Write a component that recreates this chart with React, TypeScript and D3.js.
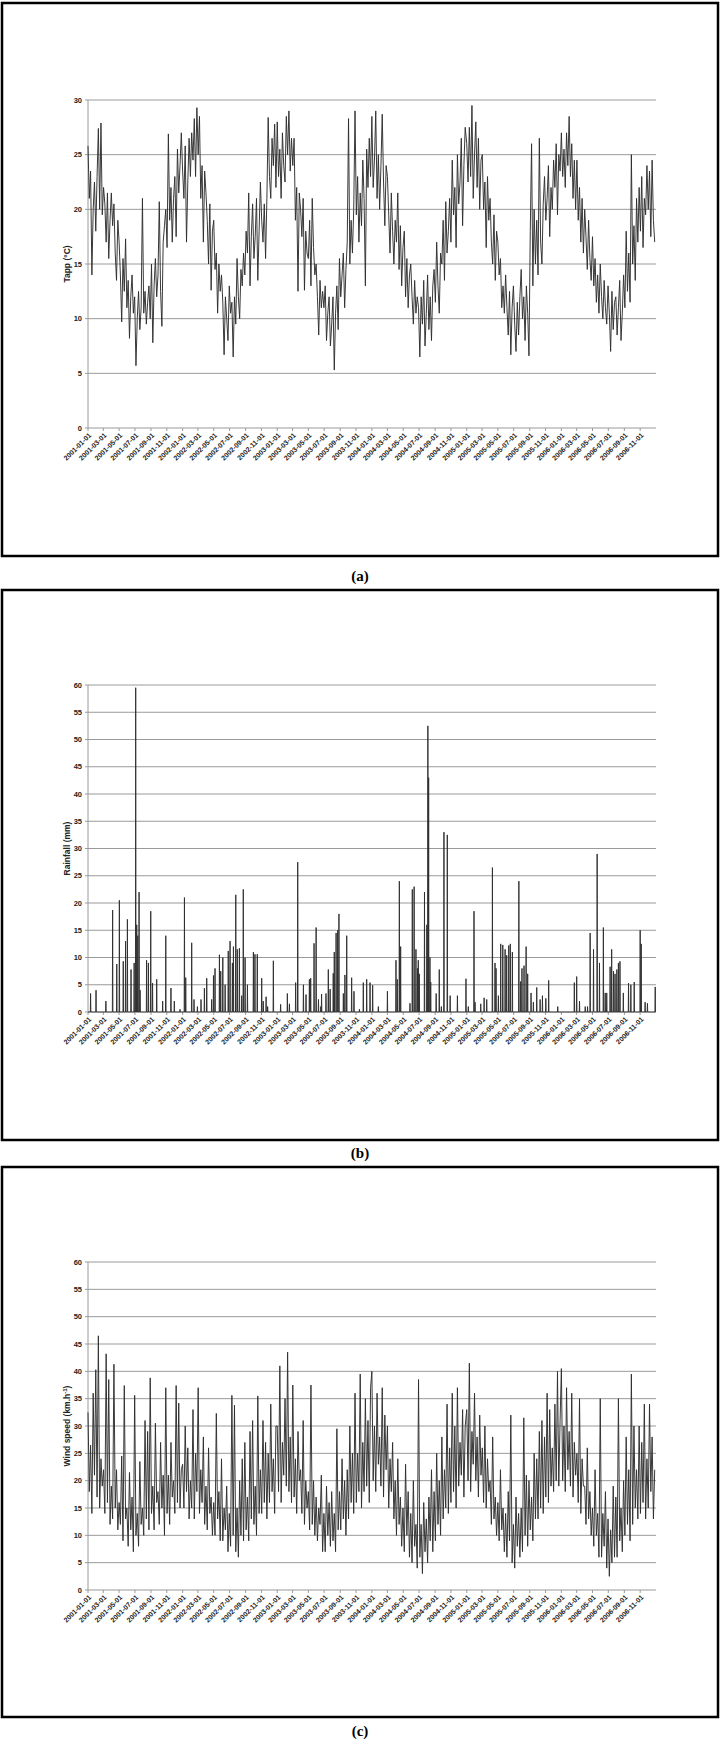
import React from 'react';
import * as d3 from 'd3';

// ---------- DATA ----------
const xTickLabels: string[] = [
  '2001-01-01','2001-03-01','2001-05-01','2001-07-01','2001-09-01','2001-11-01',
  '2002-01-01','2002-03-01','2002-05-01','2002-07-01','2002-09-01','2002-11-01',
  '2003-01-01','2003-03-01','2003-05-01','2003-07-01','2003-09-01','2003-11-01',
  '2004-01-01','2004-03-01','2004-05-01','2004-07-01','2004-09-01','2004-11-01',
  '2005-01-01','2005-03-01','2005-05-01','2005-07-01','2005-09-01','2005-11-01',
  '2006-01-01','2006-03-01','2006-05-01','2006-07-01','2006-09-01','2006-11-01',
];
const tappTicks = [0, 5, 10, 15, 20, 25, 30];
const rainTicks = [0, 5, 10, 15, 20, 25, 30, 35, 40, 45, 50, 55, 60];
const windTicks = [0, 5, 10, 15, 20, 25, 30, 35, 40, 45, 50, 55, 60];

// Apparent temperature (°C), readings every 5 days within each year
const tapp2001 = [25.8,21,23.5,14,20,22.5, 18,23,27.4,20,27.9,19.5, 22,20.5,17,21.5,15.5,19, 21.5,18.5,20.5,16,13.5,19, 17,14,9.7,15.5,12.5,17.3, 11,13.5,8.2,12,14,10.5, 12,5.7,10,12.5,9,11, 21,10.5,12.5,9.5,11.5,13, 10,15,7.8,13,15.5,12, 14,20.7,12.5,9.3,17,18.5, 20,16.5,26.9,19,22,17, 21,23,17.5,25.5,21.5,24,27];
const tapp2002 = [23.5,21,25.8,17,22.5,26.5, 23,27,24.5,28.3,23,29.3, 25,28.5,21,24,17,23.5, 21.5,19,15,20.5,12.6,18, 19,14.5,16,10.5,15,12.5, 14,11.5,6.7,12,10,8, 13,10.5,11.5,6.5,12,9.5, 15.5,12,10,14.5,13,16, 14,18,16,21.5,13,17.5, 20.5,15.5,17.5,21,13.5,18, 22.5,19,17,20.5,15.5,21, 28.4,23,21,26.5,24,27.8,22];
const tapp2003 = [28,23,25.5,21,27,24, 22.5,28.5,25,29,23.5,26.5, 24,26.5,19,22,12.5,21.5, 20,17.5,21,12.6,18,16, 15.5,19,13,21,16.5,14, 15,12,8.5,13.5,11,12.5, 11,13,8,10.5,12,7.5, 9.5,12,5.3,10.5,13,9, 15.5,12,14,16,11,14.5, 17,28.3,15,19,16,20, 29,19.5,23,17,21.5,18.5, 24.5,21,13,25.5,22,26.5,23];
const tapp2004 = [28.5,22,24.5,29,21,25, 20,24,28.7,22.5,18.5,24, 23,19.5,16,21.5,18,15, 19,17,21.5,14.5,18.5,13, 16.5,18,12,15.5,11,14, 15,12,9.5,13.5,10.5,12, 11,6.5,12,9.5,13.5,7.5, 10.5,14,9,12,8,13, 14.5,11.5,17,13,10.5,16, 15,19,13.5,20.7,16,18, 21,17,24.5,19.5,22,16.5, 25,20.5,22.5,26.5,18.5,24,27.5];
const tapp2005 = [26,22.5,27.5,23,29.5,21, 25,28,22,26.5,20,24.5, 25,20,22.5,16.5,23,19, 21,17,15,19.5,13.5,18, 17,14,15.5,11,13,10.5, 14,11,8.5,12.5,6.7,11, 13,9.5,7,11.5,8.5,12, 14.5,10,12,8,13,10.5, 6.6,18,26,13,20,15, 19,14,26.5,17,15,20.5, 23,19,21,24,17.5,22, 20,24.5,22,26,19.5,25,23.5];
const tapp2006 = [27,23,25.5,22,27,24, 28.5,23,26,21,24.5,20, 24.5,19,22,17,21,16, 20,17.5,14.5,19,15.5,13.5, 17.5,13,15.5,11.5,14,10.5, 15,12,10,13.5,11,9.5, 13,10.5,7,12.5,9,11.5, 12,8.5,11,13.5,8,10.5, 14,11,18,12.5,16,11.5, 25,15,18.5,13.5,21,17, 22,18,23,16.5,21,19.5, 24,20,23.5,17.5,24.5,19,17];

// Rainfall (mm): [day since 2001-01-01, mm]; other days read as 0
const rain2001to2003: [number, number][] = [[10,3.4],[31,4],[69,2],[95,18.7],[111,8.8],[121,20.5],[136,9.3],[145,13],[152,17],[166,7.8],[178,9],[184,59.5],[188,16],[192,14],[197,22],[201,4],[226,9.5],[233,9],[242,18.5],[249,5.3],[265,6],[288,2],[300,14],[320,4.4],[333,2],[355,0.5],[372,21],[377,6.3],[400,12.7],[409,2.3],[422,1],[436,2.3],[449,4.4],[458,6.2],[477,2.3],[484,6.7],[490,8],[507,10.5],[512,7.5],[520,10],[529,5],[541,11.2],[548,13],[557,9],[561,12],[570,21.5],[576,11.5],[584,11.7],[593,3],[599,22.5],[606,10],[615,5],[638,11],[644,10.6],[653,10.6],[670,6.2],[676,2],[687,2.8],[693,1],[715,9.4],[743,1.4],[769,3.4],[777,1.5],[801,5.4],[809,27.5],[831,5],[841,3.2],[854,6],[859,6.2],[872,12.6],[880,15.5],[889,2.3],[898,1],[901,3.3],[918,3.4],[927,7.8],[934,4.2],[946,7.1],[950,11],[957,14.5],[963,15],[968,18],[985,3.4],[991,6.8],[998,14],[1017,6.3],[1026,3.8],[1047,0.5]];
const rain2004to2006: [number, number][] = [[1062,5.4],[1075,6],[1088,5.4],[1098,4.9],[1120,1],[1155,3.8],[1188,9.5],[1193,6],[1201,24],[1206,12],[1242,1.6],[1251,22.5],[1258,23],[1265,11.5],[1271,8],[1274,9.5],[1278,7],[1298,22],[1307,16],[1311,52.5],[1314,43],[1319,10],[1322,5.5],[1343,3.4],[1355,7.8],[1363,1],[1373,33],[1386,32.5],[1397,3],[1425,3],[1458,6.1],[1467,1],[1489,18.5],[1493,1.8],[1515,1.5],[1528,2.6],[1538,2.3],[1560,26.5],[1570,9],[1574,8],[1583,3],[1592,12.5],[1600,12.3],[1609,11.5],[1615,10.4],[1623,12.2],[1629,12.5],[1637,11],[1662,24],[1669,5.6],[1674,8],[1682,8.5],[1690,12],[1696,7],[1709,3.5],[1718,1.8],[1731,4.5],[1744,2.3],[1753,3],[1766,2.5],[1777,5.8],[1812,1],[1876,5.4],[1885,6.5],[1896,2],[1918,1],[1927,1],[1937,14.5],[1950,11.5],[1964,29],[1973,9],[1988,15.5],[1995,3.5],[2001,3.5],[2014,8.3],[2020,11.5],[2027,7.5],[2033,7],[2040,7.8],[2046,9],[2052,9.3],[2065,3.5],[2085,5.3],[2094,5],[2107,5.5],[2130,15],[2134,12.5],[2149,1.8],[2158,1.6],[2188,4.6]];

// Wind speed (km/h), readings every 5 days within each year
const wind2001 = [32.5,18,26.5,14,36,21, 40.3,17,46.5,15,24,19, 22,14,43.2,16,38.5,12, 19,13,41.3,15,22,11, 16,12,24.5,9,37.4,13, 15,8,21.5,11,17,7, 35.6,10,14,8,23.5,12, 15,10,31,13,29,11, 38.8,14,19,11,30.5,16, 18,12,27,15,21,10, 37,14,21,12,27,17, 20,14,37.4,16,34.2,15,22];
const wind2002 = [23,15,30,18,26,13, 20,15,33,13,25,18, 37,14,22,16,28,12, 19,11,26,14,17,10, 16,10,32.3,13,18,9, 24,9,15,11,19,7, 14,8,35.6,10,33.8,7, 15,6,20,10,24,9, 27,11,17,9,29,13, 31,12,19,10,35.5,14, 22,14,31,16,27,13, 25,16,34,18,24,14,30];
const wind2003 = [30,18,41,16,27,21, 35,19,43.5,18,28,16, 37.5,17,24,14,29,20, 22,14,31,12,20,15, 18,11,37.5,12,20,10, 17,9,15,12,21,7, 14,7,19,10,16,8, 18,9,14,7,29.5,11, 18,11,24,13,20,10, 22,13,30,16,25,14, 36,16,25,18,39.5,15, 27,18,35,19,31,16,37];
const wind2004 = [40,20,30,18,36,23, 28,19,37,17,32,22, 30,15,24,18,27,13, 20,10,24,12,17,8, 15,7,23,10,18,6, 14,5,20,8,12,4, 38.5,6,12,3,16,7, 13,5,17,9,22,7, 18,9,25,12,20,10, 28,13,22,15,34,14, 26,16,36,18,30,15, 37,19,27,21,33,17,30];
const wind2005 = [33,20,41.5,18,29,23, 36,20,28,17,32,21, 26,16,30,15,24,18, 20,12,28,13,17,10, 16,9,22,11,15,7, 14,6,18,9,32,5, 12,4,17,8,14,6, 15,7,31.5,10,21,8, 20,11,17,9,25,13, 24,13,29,15,31,14, 28,17,36,16,33,19, 26,18,34,20,40,19,31];
const wind2006 = [40.5,20,30,18,37,22, 29,19,36,17,27,21, 25,16,35,14,24,19, 19,12,26,13,18,10, 15,8,22,10,14,6, 35,6,14,8,18,4, 13,2.5,11,5,19,6, 17,6,35,9,15,7, 20,10,28,12,22,9, 39.5,12,30,15,22,13, 30,14,27,16,34,13, 24,15,34,18,28,13,22];

// ---------- BUILD ----------
type Pt = { date: Date; v: number };
const fiveDay = (year: number, arr: number[]): Pt[] =>
  arr.map((v, i) => ({ date: new Date(Date.UTC(year, 0, 1 + i * 5)), v }));

const tappSeries: Pt[] = [
  ...fiveDay(2001, tapp2001), ...fiveDay(2002, tapp2002), ...fiveDay(2003, tapp2003),
  ...fiveDay(2004, tapp2004), ...fiveDay(2005, tapp2005), ...fiveDay(2006, tapp2006),
];
const windSeries: Pt[] = [
  ...fiveDay(2001, wind2001), ...fiveDay(2002, wind2002), ...fiveDay(2003, wind2003),
  ...fiveDay(2004, wind2004), ...fiveDay(2005, wind2005), ...fiveDay(2006, wind2006),
];
const rainMap = new Map<number, number>([...rain2001to2003, ...rain2004to2006]);
const START = new Date(Date.UTC(2001, 0, 1));
const END = new Date(Date.UTC(2007, 0, 1));
const rainSeries: Pt[] = d3.utcDays(START, END).map((d, i) => ({ date: d, v: rainMap.get(i) ?? 0 }));

// ---------- LAYOUT ----------
const PLOT_L = 88;
const PLOT_R = 656;
const FONT = "'Liberation Sans', Arial, Helvetica, sans-serif";

type Panel = {
  key: string; ticks: number[]; plotTop: number; plotBottom: number;
  boxTop: number; boxBottom: number; caption: string; captionY: number;
  series: Pt[]; title: React.ReactNode;
};

const panels: Panel[] = [
  { key: 'a', ticks: tappTicks, plotTop: 100, plotBottom: 428, boxTop: 3, boxBottom: 556,
    caption: 'a', captionY: 581, series: tappSeries, title: 'Tapp (°C)' },
  { key: 'b', ticks: rainTicks, plotTop: 685, plotBottom: 1012, boxTop: 590, boxBottom: 1140,
    caption: 'b', captionY: 1158, series: rainSeries, title: 'Rainfall (mm)' },
  { key: 'c', ticks: windTicks, plotTop: 1262, plotBottom: 1590, boxTop: 1167, boxBottom: 1717,
    caption: 'c', captionY: 1736, series: windSeries,
    title: (<>Wind speed (km.h<tspan fontSize={6} dy={-3}>-1</tspan><tspan dy={3}>)</tspan></>) },
];

const x = d3.scaleUtc().domain([START, END]).range([PLOT_L, PLOT_R]);
const parse = d3.utcParse('%Y-%m-%d');

function ChartPanel({ p }: { p: Panel }) {
  const y = d3.scaleLinear()
    .domain([p.ticks[0], p.ticks[p.ticks.length - 1]])
    .range([p.plotBottom, p.plotTop]);
  const line = d3.line<Pt>().x(d => x(d.date)).y(d => y(d.v));
  const midY = (p.plotTop + p.plotBottom) / 2;
  return (
    <g>
      <rect x={2} y={p.boxTop} width={716} height={p.boxBottom - p.boxTop}
        fill="none" stroke="#000" strokeWidth={2.5} />
      {p.ticks.map(t => (
        <g key={t}>
          {t > 0 && (
            <line x1={PLOT_L} x2={PLOT_R} y1={y(t)} y2={y(t)} stroke="#9a9a9a" strokeWidth={1} />
          )}
          <line x1={PLOT_L - 3} x2={PLOT_L} y1={y(t)} y2={y(t)} stroke="#9a9a9a" strokeWidth={1} />
          <text x={PLOT_L - 6} y={y(t)} dy="0.35em" textAnchor="end" fontFamily={FONT}
            fontWeight="bold" fontSize={7.5} fill="#222">{t}</text>
        </g>
      ))}
      <line x1={PLOT_L} x2={PLOT_L} y1={p.plotTop} y2={p.plotBottom} stroke="#9a9a9a" strokeWidth={1} />
      <line x1={PLOT_L} x2={PLOT_R} y1={p.plotBottom} y2={p.plotBottom} stroke="#9a9a9a" strokeWidth={1} />
      {xTickLabels.map(lbl => {
        const xx = x(parse(lbl) as Date);
        return (
          <g key={lbl}>
            <line x1={xx} x2={xx} y1={p.plotBottom} y2={p.plotBottom + 3} stroke="#9a9a9a" strokeWidth={1} />
            <text transform={`translate(${xx + 2},${p.plotBottom + 6}) rotate(-45)`} textAnchor="end"
              dy="0.35em" fontFamily={FONT} fontWeight="bold" fontSize={7} fill="#222">{lbl}</text>
          </g>
        );
      })}
      <path d={line(p.series) ?? ''} fill="none" stroke="#2e2e2e" strokeWidth={0.95} />
      <text transform={`translate(70,${midY}) rotate(-90)`} textAnchor="middle" fontFamily={FONT}
        fontWeight="bold" fontSize={8.5} fill="#222">{p.title}</text>
      <text x={360} y={p.captionY} textAnchor="middle"
        fontFamily="'Liberation Serif', 'Times New Roman', serif" fontWeight="bold" fontSize={15} fill="#000">
        ({p.caption})
      </text>
    </g>
  );
}

export default function App() {
  return (
    <svg width={720} height={1742} style={{ position: 'absolute', left: 0, top: 0, background: '#fff' }}>
      <rect x={0} y={0} width={720} height={1742} fill="#fff" />
      {panels.map(p => <ChartPanel key={p.key} p={p} />)}
    </svg>
  );
}
